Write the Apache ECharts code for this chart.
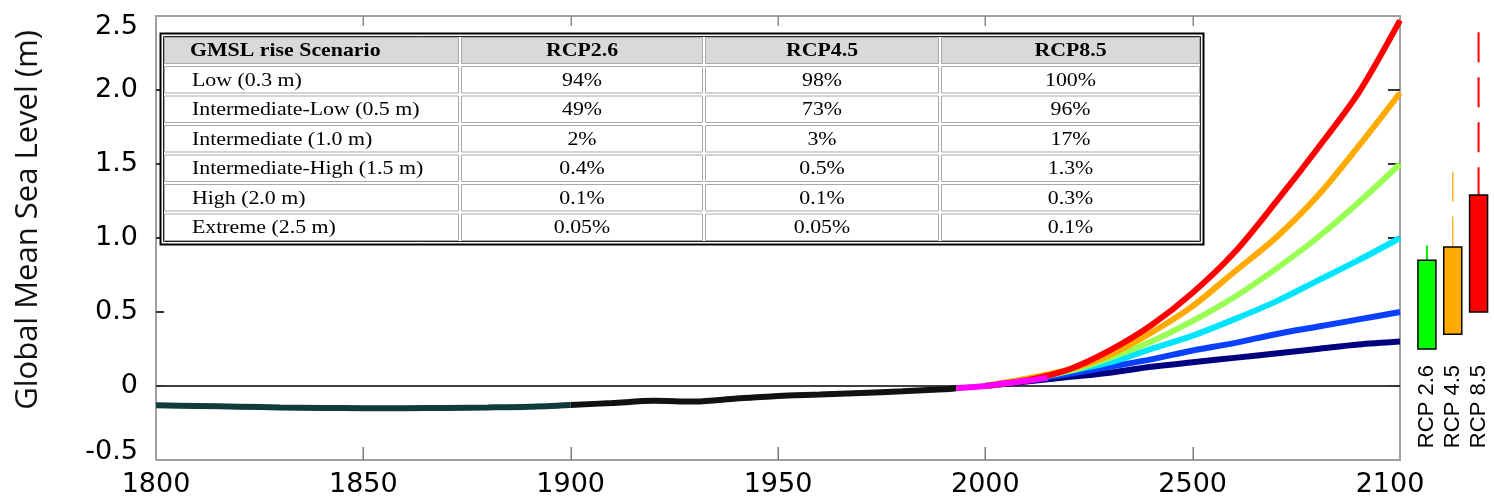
<!DOCTYPE html>
<html><head><meta charset="utf-8">
<script src="https://cdn.jsdelivr.net/npm/echarts@6/dist/echarts.min.js"></script>
<style>html,body{margin:0;padding:0;background:#fff}#c{width:1494px;height:504px}</style>
</head><body><div id="c"></div>
<script>
// ---- axis ticks ----
const xTickValues = [1800,1850,1900,1950,2000,2050,2100];
const xTickLabels = ['1800','1850','1900','1950','2000','2500','2100'];
const yTickValues = [-0.5,0,0.5,1.0,1.5,2.0,2.5];
const yTickLabels = ['-0.5','0','0.5','1.0','1.5','2.0','2.5'];

// ---- historical record ----
const histEarlyYears  = [1800,1810,1820,1830,1840,1850,1860,1870,1880,1890,1900];
const histEarlyValues = [-0.13,-0.135,-0.14,-0.145,-0.148,-0.15,-0.15,-0.148,-0.145,-0.14,-0.128];
const histLateYears   = [1900,1910,1920,1930,1940,1950,1960,1970,1980,1990,1993];
const histLateValues  = [-0.128,-0.115,-0.1,-0.105,-0.085,-0.068,-0.058,-0.047,-0.036,-0.022,-0.015];
const recentYears  = [1993,2000,2005,2010,2015];
const recentValues = [-0.015,0.0,0.02,0.035,0.055];

// ---- GMSL scenarios ----
const scenarioYears = [2000,2010,2020,2030,2040,2050,2060,2070,2080,2090,2100];
const lowValues       = [0,0.03,0.06,0.09,0.13,0.16,0.19,0.22,0.25,0.28,0.30];
const intLowValues    = [0,0.04,0.08,0.13,0.18,0.24,0.29,0.35,0.40,0.45,0.50];
const intermValues    = [0,0.04,0.10,0.16,0.25,0.34,0.45,0.57,0.71,0.85,1.00];
const intHighValues   = [0,0.05,0.10,0.19,0.30,0.44,0.60,0.79,1.00,1.24,1.50];
const highValues      = [0,0.05,0.11,0.21,0.36,0.54,0.77,1.00,1.28,1.62,1.98];
const extremeValues   = [0,0.04,0.11,0.24,0.41,0.63,0.90,1.24,1.60,1.98,2.47];

// ---- RCP ranges at 2100 ----
const rcpNames   = ['RCP 2.6','RCP 4.5','RCP 8.5'];
const rcpLow     = [0.25,0.35,0.50];
const rcpHigh    = [0.85,0.94,1.29];
const rcpWhisker = [0.95,1.45,2.39];

// ---- probability table ----
const tableHeader   = ['GMSL rise Scenario','RCP2.6','RCP4.5','RCP8.5'];
const scenarioNames = ['Low (0.3 m)','Intermediate-Low (0.5 m)','Intermediate (1.0 m)','Intermediate-High (1.5 m)','High (2.0 m)','Extreme (2.5 m)'];
const probRcp26 = ['94%','49%','2%','0.4%','0.1%','0.05%'];
const probRcp45 = ['98%','73%','3%','0.5%','0.1%','0.05%'];
const probRcp85 = ['100%','96%','17%','1.3%','0.3%','0.1%'];

const zip = (xs, ys) => xs.map((x, i) => [x, ys[i]]);
const X_MIN = xTickValues[0], X_MAX = xTickValues[xTickValues.length - 1];
const Y_MIN = yTickValues[0], Y_MAX = yTickValues[yTickValues.length - 1];

// ---- table graphics ----
const colEdges = [163, 460, 704, 940, 1201];
const rowEdges = [36, 65];
for (let i = 1; i <= 6; i++) rowEdges.push(65 + i * 29.5);
const tableEls = [];
tableEls.push({type:'rect', shape:{x:160.5, y:33.5, width:1043, height:211}, style:{fill:'#fff', stroke:'#000', lineWidth:2}});
tableEls.push({type:'rect', shape:{x:163.5, y:36.5, width:1037, height:205}, style:{fill:'#fff', stroke:'#222', lineWidth:1}});
const rowsText = [tableHeader].concat(scenarioNames.map((n, i) => [n, probRcp26[i], probRcp45[i], probRcp85[i]]));
for (let r = 0; r < rowsText.length; r++) {
  const y0 = rowEdges[r], y1 = rowEdges[r + 1];
  for (let c = 0; c < 4; c++) {
    const x0 = colEdges[c], x1 = colEdges[c + 1];
    tableEls.push({type:'rect', shape:{x:x0 + 1.5, y:y0 + 1.5, width:x1 - x0 - 3, height:y1 - y0 - 3},
      style:{fill: r === 0 ? '#d9d9d9' : '#fff', stroke:'#a9a9a9', lineWidth:1}});
    const left = c === 0;
    tableEls.push({type:'text', x: left ? (r === 0 ? 190 : 192) : (x0 + x1) / 2, y:(y0 + y1) / 2 + 1, scaleX:1.15,
      style:{text: rowsText[r][c], font:(r === 0 ? 'bold ' : '') + '19px "Liberation Serif"', fill:'#000',
        textAlign: left ? 'left' : 'center', align: left ? 'left' : 'center',
        textVerticalAlign:'middle', verticalAlign:'middle'}});
  }
}
tableEls.forEach(e => { e.z = 100; e.silent = true; });

const axisFont = {fontFamily:'DejaVu Sans', fontSize:27, color:'#000'};
const frameLine = {show:true, onZero:false, lineStyle:{color:'#a0a0a0', width:2}};

function lineSeries(name, xs, ys, color, extra) {
  return Object.assign({name, type:'line', xAxisIndex:0, yAxisIndex:0, data:zip(xs, ys), showSymbol:false,
    symbol:'none', smooth:0.3, lineStyle:{color, width:6}, silent:true}, extra || {});
}

const chart = echarts.init(document.getElementById('c'), null, {renderer:'canvas'});
chart.setOption({
  animation:false,
  backgroundColor:'#fff',
  grid:[
    {left:156, right:94, top:16, bottom:44, show:false},
    {left:1414, width:77.5, top:16, bottom:44}
  ],
  xAxis:[
    {gridIndex:0, type:'value', min:X_MIN, max:X_MAX, interval:50, position:'bottom',
      axisLine:frameLine, splitLine:{show:false}, axisTick:{show:false},
      axisLabel:{margin:11, ...axisFont,
        formatter:(v) => { const i = xTickValues.indexOf(v); return i === 6 ? '{e|' + xTickLabels[i] + '}' : xTickLabels[i]; },
        rich:{e:{...axisFont, padding:[0,20,0,0]}}}},
    {gridIndex:0, type:'value', min:X_MIN, max:X_MAX, interval:50, position:'top',
      axisLine:frameLine, splitLine:{show:false}, axisLabel:{show:false}, axisTick:{show:false}},
    {gridIndex:1, type:'category', data:rcpNames, position:'bottom', offset:-100,
      axisLine:{show:false, onZero:false}, axisTick:{show:false}, splitLine:{show:false},
      axisLabel:{rotate:90, margin:5, interval:0, fontFamily:'Liberation Sans', fontSize:22, color:'#000'}}
  ],
  yAxis:[
    {gridIndex:0, type:'value', min:Y_MIN, max:Y_MAX, interval:0.5, position:'left',
      axisLine:frameLine, splitLine:{show:false}, axisTick:{show:false},
      axisLabel:{margin:18, ...axisFont,
        formatter:(v) => { const i = Math.round((v - Y_MIN) / 0.5); const t = yTickLabels[i];
          return i === 6 ? '{t|' + t + '}' : (i === 0 ? '{b|' + t + '}' : t); },
        rich:{t:{...axisFont, padding:[22,0,0,0]}, b:{...axisFont, padding:[0,0,16,0]}}}},
    {gridIndex:0, type:'value', min:Y_MIN, max:Y_MAX, interval:0.5, position:'right',
      axisLine:frameLine, splitLine:{show:false}, axisLabel:{show:false}, axisTick:{show:false}},
    {gridIndex:1, type:'value', min:Y_MIN, max:Y_MAX, show:false}
  ],
  graphic:[
    {type:'text', x:28, y:220, rotation:Math.PI / 2, silent:true,
      style:{text:'Global Mean Sea Level (m)', font:'31px "Open Sans"', fill:'#111',
        textAlign:'center', align:'center', textVerticalAlign:'middle', verticalAlign:'middle'}}
  ].concat(tableEls),
  series:[
    // inward tick marks on the bottom and top edges, placed through the axis scales
    {name:'x ticks', type:'custom', xAxisIndex:0, yAxisIndex:0, silent:true, z:3, clip:false,
      data: xTickValues.slice(1, -1).map(v => [v, 0]),
      encode:{x:0, y:1},
      renderItem:(params, api) => {
        const v = api.value(0);
        const b = api.coord([v, Y_MIN]), t = api.coord([v, Y_MAX]);
        return {type:'group', children:[
          {type:'rect', shape:{x:Math.round(b[0]) - 0.5, y:b[1] - 13, width:1.5, height:13}, style:{fill:'#7a7a7a'}},
          {type:'rect', shape:{x:Math.round(t[0]) - 0.5, y:t[1], width:1.5, height:10}, style:{fill:'#8a8a8a'}}
        ]};
      }},
    // inward tick marks on the left and right edges
    {name:'y ticks', type:'custom', xAxisIndex:0, yAxisIndex:0, silent:true, z:3, clip:false,
      data: yTickValues.slice(1, -1).map(v => [2000, v]),
      encode:{x:0, y:1},
      renderItem:(params, api) => {
        const v = api.value(1);
        const l = api.coord([X_MIN, v]), r = api.coord([X_MAX, v]);
        return {type:'group', children:[
          {type:'rect', shape:{x:l[0], y:l[1] - 1, width:8, height:2}, style:{fill:'#333'}},
          {type:'rect', shape:{x:r[0] - 12, y:r[1] - 1, width:12, height:2}, style:{fill:'#333'}}
        ]};
      }},
    lineSeries('Low', scenarioYears, lowValues, '#000080', {
      markLine:{silent:true, symbol:'none', label:{show:false}, lineStyle:{color:'#000', width:1.5, type:'solid'},
        data:[{yAxis:0}], z:1}}),
    lineSeries('Intermediate-Low', scenarioYears, intLowValues, '#0a40ff'),
    lineSeries('Intermediate', scenarioYears, intermValues, '#00e5ff'),
    lineSeries('Intermediate-High', scenarioYears, intHighValues, '#99ff55'),
    lineSeries('High', scenarioYears, highValues, '#ffaa00'),
    lineSeries('Extreme', scenarioYears, extremeValues, '#ff0000'),
    lineSeries('Historical (early)', histEarlyYears, histEarlyValues, '#0f3b3a'),
    lineSeries('Historical', histLateYears, histLateValues, '#111111'),
    lineSeries('Satellite', recentYears, recentValues, '#ff00ff'),
    {name:'RCP ranges', type:'custom', xAxisIndex:2, yAxisIndex:2, silent:true,
      data: rcpNames.map((n, i) => [i, rcpLow[i], rcpHigh[i], rcpWhisker[i]]),
      encode:{x:0, y:[1,2,3]},
      renderItem:(params, api) => {
        const i = api.value(0);
        const pLow = api.coord([i, api.value(1)]);
        const pHigh = api.coord([i, api.value(2)]);
        const pW = api.coord([i, api.value(3)]);
        const fills = ['#00ff00','#ffaa00','#ff0000'];
        const whisk = ['#00ee00','#ffb733','#ff0000'];
        const dash = [null,[30,15],[30,15]];
        const widths = [2,1.5,2];
        const w = 18;
        return {type:'group', children:[
          {type:'line', shape:{x1:pHigh[0], y1:pW[1], x2:pHigh[0], y2:pHigh[1]},
            style:{stroke:whisk[i], lineWidth:widths[i], lineDash:dash[i]}},
          {type:'rect', shape:{x:pLow[0] - w / 2, y:pHigh[1], width:w, height:pLow[1] - pHigh[1]},
            style:{fill:fills[i], stroke:'#000', lineWidth:1.5}}
        ]};
      }}
  ]
});
</script></body></html>
